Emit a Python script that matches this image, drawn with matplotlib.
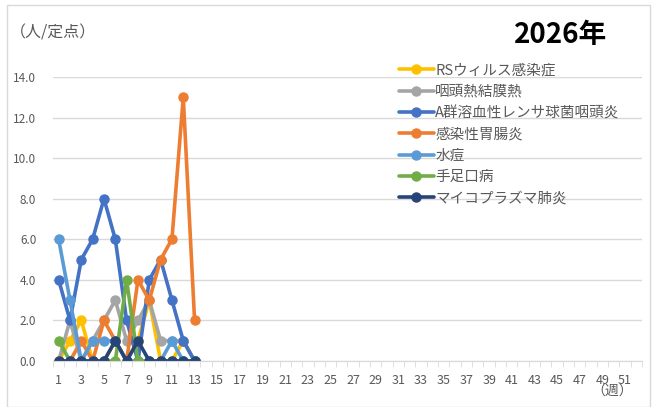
import matplotlib
matplotlib.use("Agg")
import matplotlib.pyplot as plt
from matplotlib.patches import Rectangle
from matplotlib.ticker import FixedLocator, MultipleLocator

plt.rcParams["font.family"] = ["Noto Sans CJK JP", "DejaVu Sans"]

weeks = list(range(1, 14))
series_names = [
    "RSウィルス感染症",
    "咽頭熱結膜熱",
    "A群溶血性レンサ球菌咽頭炎",
    "感染性胃腸炎",
    "水痘",
    "手足口病",
    "マイコプラズマ肺炎",
]
rs_virus = [0, 1, 2, 0, 0, 1, 0, 1, 3, 0, 0, 1, 0]
pharyngoconj = [0, 2, 0, 1, 2, 3, 1, 2, 3, 1, 1, 1, 0]
strep_a = [4, 2, 5, 6, 8, 6, 2, 0, 4, 5, 3, 1, 0]
gastro = [0, 0, 1, 0, 2, 1, 0, 4, 3, 5, 6, 13, 2]
varicella = [6, 3, 0, 1, 1, 1, 0, 0, 0, 0, 1, 0, 0]
hfmd = [1, 0, 0, 0, 0, 0, 4, 0, 0, 0, 0, 0, 0]
mycoplasma = [0, 0, 0, 0, 0, 1, 0, 1, 0, 0, 0, 0, 0]
series_values = [rs_virus, pharyngoconj, strep_a, gastro, varicella, hfmd, mycoplasma]
colors = ["#FFC000", "#A5A5A5", "#4472C4", "#ED7D31", "#5B9BD5", "#70AD47", "#264478"]

week_labels = list(range(1, 52, 2))
n_weeks = 52

W, H = 663, 407
fig = plt.figure(figsize=(W / 100, H / 100), dpi=100)
ax = fig.add_axes([53 / W, 46 / H, 589 / W, 284 / H])

for name, vals, col in zip(series_names, series_values, colors):
    ax.plot(weeks, vals, color=col, lw=2.6, marker="o", ms=6.5,
            label=name, solid_capstyle="round")

ax.set_xlim(0.5, n_weeks + 0.5)
ax.set_ylim(0, 14)
ax.yaxis.set_major_locator(MultipleLocator(2))
ax.set_yticklabels([f"{v:.1f}" for v in ax.get_yticks()])
ax.xaxis.set_major_locator(FixedLocator(week_labels))
ax.xaxis.set_minor_locator(FixedLocator([i + 0.5 for i in range(0, n_weeks + 1)]))
ax.tick_params(axis="x", which="major", length=0, pad=9, labelsize=9, colors="#595959")
ax.tick_params(axis="x", which="minor", length=4, color="#D9D9D9")
ax.tick_params(axis="y", length=0, pad=12, labelsize=8.5, colors="#595959")
ax.grid(axis="y", color="#D9D9D9", lw=1)
ax.set_axisbelow(True)
for side in ("top", "right", "left"):
    ax.spines[side].set_visible(False)
ax.spines["bottom"].set_color("#D9D9D9")

leg = ax.legend(loc="upper left", bbox_to_anchor=(340 / 589, 1.068), frameon=False,
                fontsize=10.5, labelcolor="#595959", handlelength=2.4,
                handletextpad=0.1, labelspacing=0.5, borderaxespad=0)

fig.text(10 / W, 1 - 33 / H, "（人/定点）", fontsize=11.5, color="#595959", va="center")
fig.text(561 / W, 1 - 35 / H, "2026年", fontsize=20, fontweight="bold",
         color="black", ha="center", va="center")
fig.text(612 / W, 1 - 392 / H, "（週）", fontsize=10, color="#595959", ha="center", va="center")

fig.patches.append(Rectangle((7 / W, 0), 643 / W, 1 - 5 / H, transform=fig.transFigure,
                             fill=False, edgecolor="#D9D9D9", lw=1))

fig.savefig("out.png", dpi=100)
